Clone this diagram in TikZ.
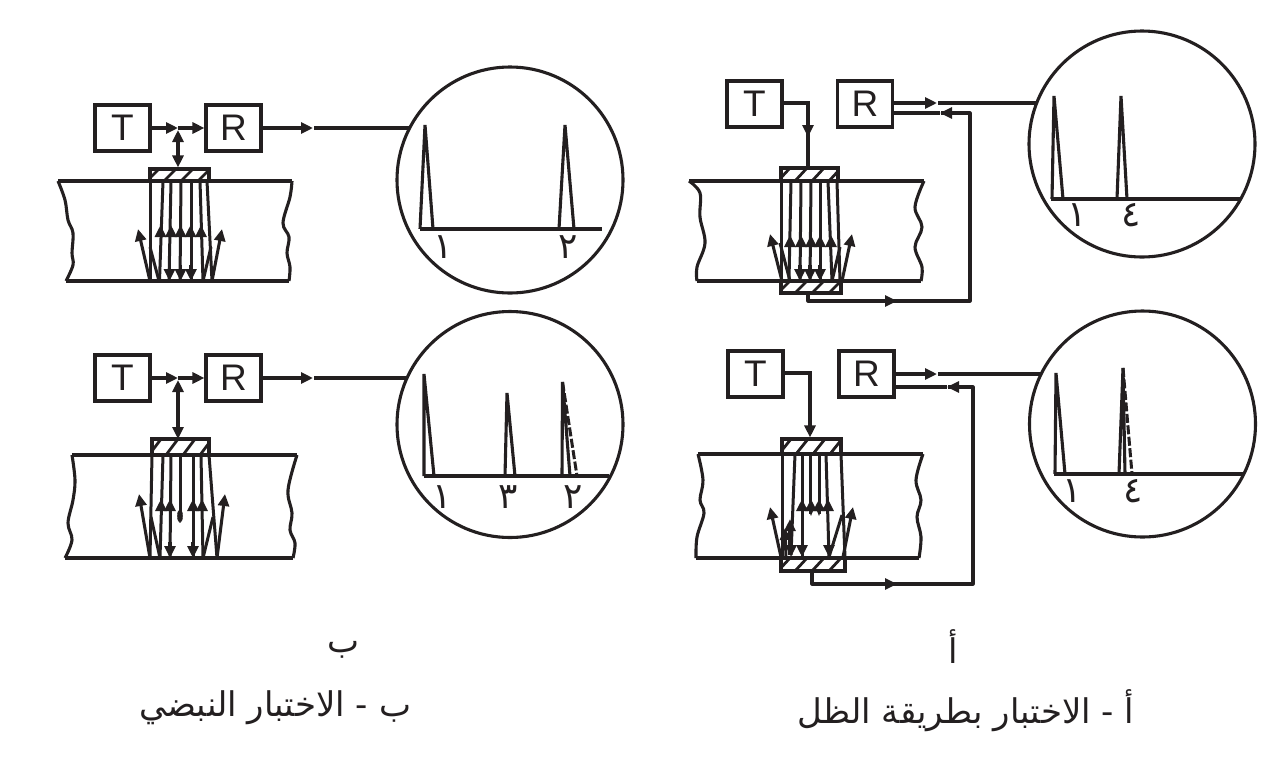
\documentclass[tikz,border=0pt]{standalone}
\usepackage{fontspec}
\setmainfont{Liberation Sans}
\newfontfamily\arabicfont[Script=Arabic]{DejaVu Sans}
\TeXXeTstate=1
\usetikzlibrary{arrows.meta}
\definecolor{ink}{HTML}{231F20}
\tikzset{
  lw/.style={line width=3.1pt,draw=ink,line join=miter},
  thin beam/.style={line width=3pt,draw=ink},
  headed/.style={-{Triangle[length=12pt,width=11pt]},line width=3.05pt,draw=ink},
  twohead/.style={{Triangle[length=12pt,width=11pt]}-{Triangle[length=12pt,width=11pt]},line width=3.05pt,draw=ink},
  boxnode/.style={draw=ink,line width=3.1pt,minimum width=55pt,minimum height=46pt,inner sep=0pt,font=\fontsize{37}{37}\selectfont,text=ink},
  scope circle/.style={circle,draw=ink,line width=3.1pt,minimum size=226pt,inner sep=0pt},
  digit/.style={inner sep=0pt,font=\arabicfont\fontsize{36}{36}\selectfont,text=ink},
  caption/.style={inner sep=0pt,font=\arabicfont\fontsize{34}{34}\selectfont,text=ink},
  ghost/.style={line width=3pt,draw=ink,dash pattern=on 9pt off 2.5pt},
}
\newcommand{\hatchbox}[5]{% name, x1,y1,x2,y2
  \begin{scope}
    \clip (#2,#3) rectangle (#4,#5);
    \foreach \hx in {-20,-3,...,80}
      \draw[line width=2.8pt,draw=ink] ({#2+\hx},#5) -- ({#2+\hx+12},#3);
  \end{scope}
  \node[draw=ink,line width=3.1pt,inner sep=0pt,minimum width={(#4-#2)*1pt},minimum height={(#5-#3)*1pt}] (#1) at ({(#2+#4)/2},{(#3+#5)/2}) {};
}
\newcommand{\beam}[4]{\draw[thin beam] (#1,#2) -- (#3,#4);}
\newcommand{\up}[3]{\draw[headed] (#1,#2) -- (#1,#3);}
\begin{document}
\begin{tikzpicture}[x=1pt,y=-1pt]
\useasboundingbox (0,0) rectangle (1280,772);
% ---------- b top
\node[boxnode] (T1) at (122.5,128) {T};
\node[boxnode] (R1) at (233.5,128) {R};
\coordinate (J1) at (178,128);
\hatchbox{P1}{150}{169}{209}{181}
\draw[lw] plot[smooth,tension=.6] coordinates {(58,181)(65,200)(68,220)(73,233)(72,253)(73,265)(66,281)};
\draw[lw] plot[smooth,tension=.6] coordinates {(292,181)(290,197)(283,223)(289,237)(287,253)(290,267)(289,281)};
\draw[lw] (58,181) -- (150,181) (209,181) -- (292,181) (66,281) -- (289,281);
\draw[headed] (T1.east) -- (178,128);
\draw[headed] (J1) -- (R1.west);
\draw[twohead] (178,130) -- (P1.north -| 178,130);
\draw[headed] (R1.east) -- (313,128);
\node[scope circle] (C1) at (510,180) {};
\coordinate (C1in) at (409.5,128);
\draw[lw] (314,128) -- (C1in);
\beam{150}{181}{150}{281}\beam{207}{181}{212}{281}
\beam{163}{181}{159.5}{281}\beam{171}{181}{169}{281}\beam{181}{181}{180}{281}\beam{191}{181}{191}{281}\beam{200}{181}{203}{281}
\foreach \a in {160.5,171,180.5,190.5,201}{\up{\a}{237}{225}}
\foreach \a in {169.5,180.5,191}{\draw[headed] (\a,265) -- (\a,281);}
\draw[headed] (150,281) -- (138,229);
\draw[thin beam] (159,281) -- (150,247);
\draw[headed] (212,281) -- (222,229);
\draw[thin beam] (203,281) -- (211,247);
\draw[lw] (420,229) -- (602,229);
\draw[lw] (420,229) -- (425,125) -- (433,229);
\draw[lw] (559,229) -- (565,125) -- (574,229);
\node[digit] at (443,247) {١};
\node[digit] at (568,247) {٢};
% ---------- b bottom
\node[boxnode] (T2) at (122.5,378) {T};
\node[boxnode] (R2) at (233.5,378) {R};
\coordinate (J2) at (178,378);
\hatchbox{P2}{152}{439}{209}{455}
\draw[lw] plot[smooth,tension=.6] coordinates {(72,455)(75,480)(73,500)(68,523)(72,540)(65,558)};
\draw[lw] plot[smooth,tension=.6] coordinates {(297,455)(288,490)(292,513)(290,530)(295,543)(293,558)};
\draw[lw] (72,455) -- (152,455) (209,455) -- (297,455) (65,558) -- (293,558);
\draw[headed] (T2.east) -- (178,378);
\draw[headed] (J2) -- (R2.west);
\draw[twohead] (178,380) -- (178,439);
\draw[headed] (R2.east) -- (313,378);
\node[scope circle] (C2) at (510,424.5) {};
\coordinate (C2in) at (407,378);
\draw[lw] (314,378) -- (C2in);
\beam{152}{455}{150}{558}\beam{209}{455}{217}{558}
\beam{163}{455}{160}{558}\beam{171}{455}{170}{558}\beam{193}{455}{193}{558}\beam{201}{455}{203}{558}
\draw[thin beam] (180,455) -- (180,512);
\draw[ink,fill=ink] (180,516) ellipse (2.6 and 6.5);
\foreach \a in {161,170,193,202}{\up{\a}{510}{499}}
\foreach \a in {170,193}{\draw[headed] (\a,542) -- (\a,558);}
\draw[headed] (150,558) -- (139,494);
\draw[thin beam] (160,558) -- (151,517);
\draw[headed] (217,558) -- (225,494);
\draw[thin beam] (203,558) -- (213,517);
\draw[lw] (424,476) -- (609,476);
\draw[lw] (424,476) -- (424,374) -- (434,476);
\draw[lw] (505,476) -- (507,393) -- (515,476);
\draw[lw] (562,476) -- (562.5,382) -- (570,476);
\draw[ghost] (562.5,382) -- (577,476);
\node[digit] at (442,497) {١};
\node[digit] at (508,497) {٣};
\node[digit] at (573,497) {٢};
% ---------- a top
\node[boxnode] (T3) at (754.5,104) {T};
\node[boxnode] (R3) at (865,104) {R};
\hatchbox{P3}{781}{168}{838}{181}
\hatchbox{Q3}{781}{281}{841}{293}
\draw[lw] plot[smooth,tension=.6] coordinates {(689,181)(700,193)(700,217)(705,243)(697,267)(697,281)};
\draw[lw] plot[smooth,tension=.6] coordinates {(924,181)(915,207)(922,227)(915,247)(922,267)(921,281)};
\draw[lw] (689,181) -- (781,181) (838,181) -- (924,181) (697,281) -- (781,281) (841,281) -- (921,281);
\coordinate (A3) at (808,103);
\draw[lw] (T3.east |- A3) -- (A3) -- (P3.north -| A3);
\draw[headed] (808,125) -- (808,137);
\node[scope circle] (C3) at (1142,144) {};
\coordinate (C3in) at (1037,103);
\draw[headed] (R3.east |- A3) -- (937,103);
\draw[lw] (938,103) -- (C3in);
\coordinate (B3) at (808,301);
\coordinate (D3) at (970,301);
\coordinate (E3) at (970,113);
\draw[lw,line join=round] (Q3.south -| B3) -- (B3) -- (D3) -- (E3) -- (941,113);
\draw[headed] (885,301) -- (897,301);
\draw[headed] (952,113) -- (940,113);
\draw[lw] (R3.east |- E3) -- (940,113);
\beam{781}{181}{781}{281}\beam{837}{181}{840}{281}
\beam{791}{181}{789}{281}\beam{801}{181}{800}{281}\beam{811}{181}{810}{281}\beam{820}{181}{820}{281}\beam{828}{181}{832}{281}
\foreach \a in {790,801,811,820,831}{\up{\a}{246}{235}}
\foreach \a in {800,810,820}{\draw[headed] (\a,265) -- (\a,281);}
\draw[headed] (782,281) -- (770,234);
\draw[thin beam] (790,281) -- (780,243);
\draw[headed] (842,281) -- (852,234);
\draw[thin beam] (832,281) -- (840,247);
\draw[lw] (1051,199) -- (1240,199);
\draw[lw] (1052,199) -- (1054,96) -- (1063,199);
\draw[lw] (1117,199) -- (1121,96) -- (1127,199);
\node[digit] at (1077,215) {١};
\node[digit] at (1131,215) {٤};
% ---------- a bottom
\node[boxnode] (T4) at (755.5,374) {T};
\node[boxnode] (R4) at (866.5,374) {R};
\hatchbox{P4}{782}{439}{841}{454}
\hatchbox{Q4}{781}{558}{845}{571}
\draw[lw] plot[smooth,tension=.6] coordinates {(698,454)(703,480)(700,500)(704,513)(697,537)(696,558)};
\draw[lw] plot[smooth,tension=.6] coordinates {(923,454)(916,480)(921,500)(917,517)(921,537)(919,558)};
\draw[lw] (698,454) -- (782,454) (841,454) -- (923,454) (696,558) -- (781,558) (845,558) -- (919,558);
\coordinate (A4) at (810,373);
\draw[lw] (T4.east |- A4) -- (A4) -- (810,428);
\draw[headed] (810,425) -- (P4.north -| A4);
\node[scope circle] (C4) at (1142.5,424) {};
\coordinate (C4in) at (1041,374);
\draw[headed] (R4.east |- C4in) -- (937,374);
\draw[lw] (938,374) -- (C4in);
\coordinate (B4) at (812,584);
\coordinate (D4) at (973,584);
\coordinate (E4) at (973,387);
\draw[lw,line join=round] (Q4.south -| B4) -- (B4) -- (D4) -- (E4) -- (948,387);
\draw[headed] (885,584) -- (897,584);
\draw[headed] (959,387) -- (947,387);
\draw[lw] (R4.east |- E4) -- (947,387);
\beam{782}{454}{782}{558}\beam{841}{454}{845}{558}
\beam{795}{454}{791}{555}\beam{802}{454}{802}{557}\beam{810}{454}{810}{514}\beam{819}{454}{819}{514}\beam{826}{454}{829}{557}
\foreach \a in {802,811,819,828}{\up{\a}{510}{499}}
\draw[line width=2.2pt,draw=ink] (802,513) arc[start angle=180,end angle=360,radius=4.5] arc[start angle=180,end angle=360,radius=4] arc[start angle=180,end angle=360,radius=4.5];
\foreach \a in {791,802,829}{\draw[headed] (\a,545) -- (\a,557);}
\draw[headed] (790,555) -- (790,519);
\draw[headed] (786,557) -- (785,528);
\draw[headed] (781,557) -- (770,507);
\draw[headed] (843,557) -- (853,507);
\draw[thin beam] (829,557) -- (842,515);
\draw[lw] (1054,474) -- (1243,474);
\draw[lw] (1055,474) -- (1056,373) -- (1065,474);
\draw[lw] (1119,474) -- (1123,368) -- (1125,474);
\draw[ghost] (1123,368) -- (1132,474);
\node[digit] at (1072,491) {١};
\node[digit] at (1133,491) {٤};
% ---------- captions
\node[caption] (capb) at (343,650) {\beginR ب\endR};
\node[caption] (capa) at (953,647) {\beginR أ\endR};
\node[caption] (titleb) at (275,708) {\beginR ب - الاختبار النبضي\endR};
\node[caption] (titlea) at (966,711) {\beginR أ - الاختبار بطريقة الظل\endR};
\end{tikzpicture}
\end{document}
